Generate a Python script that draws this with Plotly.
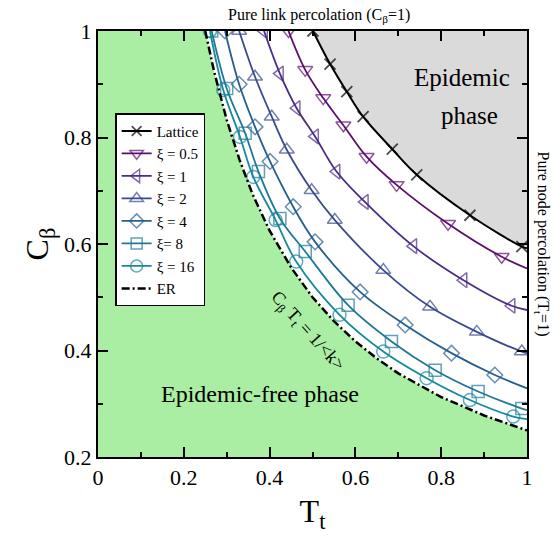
import plotly.graph_objects as go

# ---------------- data ----------------
lattice_T = [0.501, 0.541, 0.580, 0.618, 0.686, 0.743, 0.867, 0.988]
lattice_C = [1.000, 0.938, 0.886, 0.839, 0.778, 0.730, 0.654, 0.595]
lattice_end = 0.592

xi05_T = [0.444, 0.483, 0.525, 0.572, 0.626, 0.696, 0.816, 0.941]
xi05_C = [1.000, 0.927, 0.874, 0.823, 0.764, 0.711, 0.638, 0.576]
xi05_end = 0.554

xi1_T = [0.387, 0.424, 0.463, 0.506, 0.556, 0.622, 0.735, 0.852, 0.964]
xi1_C = [1.000, 0.920, 0.855, 0.802, 0.736, 0.679, 0.596, 0.532, 0.484]
xi1_end = 0.476

xi2_T = [0.329, 0.366, 0.405, 0.440, 0.498, 0.552, 0.665, 0.774, 0.883, 0.988]
xi2_C = [1.000, 0.914, 0.839, 0.777, 0.701, 0.645, 0.551, 0.482, 0.435, 0.398]
xi2_end = 0.395

xi4_T = [0.296, 0.329, 0.366, 0.401, 0.455, 0.506, 0.611, 0.716, 0.824, 0.925]
xi4_C = [1.000, 0.900, 0.820, 0.755, 0.670, 0.604, 0.510, 0.448, 0.395, 0.354]
xi4_end = 0.329

xi8_T = [0.265, 0.300, 0.343, 0.374, 0.424, 0.483, 0.583, 0.684, 0.786, 0.886, 0.988]
xi8_C = [1.000, 0.892, 0.808, 0.736, 0.648, 0.586, 0.485, 0.417, 0.363, 0.323, 0.291]
xi8_end = 0.288

xi16_T = [0.261, 0.292, 0.331, 0.362, 0.414, 0.462, 0.563, 0.665, 0.766, 0.867, 0.968]
xi16_C = [1.000, 0.889, 0.801, 0.726, 0.645, 0.567, 0.467, 0.398, 0.348, 0.307, 0.276]
xi16_end = 0.271

er_T = [0.25, 0.27, 0.30, 0.33, 0.36, 0.40, 0.45, 0.50, 0.55, 0.60, 0.65, 0.70, 0.80, 0.90, 1.00]
er_C = [1.000, 0.926, 0.833, 0.758, 0.694, 0.625, 0.556, 0.500, 0.455, 0.417, 0.385, 0.357, 0.3125, 0.278, 0.250]

series_names = ["ξ = 0.5", "ξ = 1", "ξ = 2", "ξ = 4", "ξ= 8", "ξ = 16"]
series_T = [xi05_T, xi1_T, xi2_T, xi4_T, xi8_T, xi16_T]
series_C = [xi05_C, xi1_C, xi2_C, xi4_C, xi8_C, xi16_C]
series_end = [xi05_end, xi1_end, xi2_end, xi4_end, xi8_end, xi16_end]

colors = ["#5b0f6e", "#4b2c86", "#3b4a8e", "#255f8f", "#1f7898", "#17899c"]
symbols = ["triangle-down-open", "triangle-left-open", "triangle-up-open",
           "diamond-open", "square-open", "circle-open"]
msizes = [13, 13, 13, 12, 12, 13]

FONT = "Times New Roman, Liberation Serif, serif"

fig = go.Figure()

# green epidemic-free region (left/below ER line)
fig.add_trace(go.Scatter(
    x=[0] + er_T + [1.0], y=[1.0] + er_C + [0.0],
    mode="lines", line=dict(width=0), fill="tozeroy",
    fillcolor="#a9eea2", showlegend=False, hoverinfo="skip"))

# gray epidemic region (above lattice line)
fig.add_trace(go.Scatter(
    x=[lattice_T[0], 1.0], y=[1.0, 1.0], mode="lines",
    line=dict(width=0), showlegend=False, hoverinfo="skip"))
fig.add_trace(go.Scatter(
    x=lattice_T + [1.0], y=lattice_C + [lattice_end], mode="lines",
    line=dict(width=0, shape="spline"), fill="tonexty",
    fillcolor="#dadada", showlegend=False, hoverinfo="skip"))

# lattice
fig.add_trace(go.Scatter(
    x=lattice_T + [1.0], y=lattice_C + [lattice_end],
    mode="lines+markers", name="Lattice",
    line=dict(color="black", width=2, shape="spline"),
    marker=dict(symbol="x-thin-open", size=[11] * len(lattice_T) + [0],
                line=dict(color="black", width=1.8), color="black")))

for name, T, C, end, col, sym, ms in zip(series_names, series_T, series_C,
                                         series_end, colors, symbols, msizes):
    fig.add_trace(go.Scatter(
        x=T + [1.0], y=C + [end], mode="lines+markers", name=name,
        line=dict(color=col, width=1.8, shape="spline"),
        marker=dict(symbol=sym, size=[ms] * len(T) + [0], color=col,
                    line=dict(color=col, width=1.5))))

# ER
fig.add_trace(go.Scatter(
    x=er_T, y=er_C, mode="lines", name="ER",
    line=dict(color="black", width=2.5, dash="8px,3px,2px,3px")))

axis_common = dict(
    showline=True, linewidth=2, linecolor="black", mirror="ticks",
    ticks="inside", ticklen=10, tickwidth=1.5, tickcolor="black",
    showgrid=False, zeroline=False,
    tickfont=dict(family=FONT, size=22, color="black"),
    minor=dict(ticks="inside", ticklen=5, tickwidth=1.5, tickcolor="black",
               dtick=0.1, showgrid=False),
)

fig.update_xaxes(range=[0, 1], dtick=0.2, tick0=0,
                 title=dict(text="T<sub>t</sub>", font=dict(family=FONT, size=32, color="black"),
                            standoff=10),
                 **axis_common)
fig.update_yaxes(range=[0.2, 1], dtick=0.2, tick0=0.2,
                 title=dict(text="C<sub>β</sub>", font=dict(family=FONT, size=32, color="black"),
                            standoff=6),
                 **axis_common)

annotations = [
    dict(text="Epidemic", x=0.848, y=0.912, xref="x", yref="y",
         showarrow=False, font=dict(family=FONT, size=25, color="black")),
    dict(text="phase", x=0.937, y=0.842, xref="x", yref="y", xanchor="right",
         showarrow=False, font=dict(family=FONT, size=25, color="black")),
    dict(text="Epidemic-free phase", x=0.378, y=0.318, xref="x", yref="y",
         showarrow=False, font=dict(family=FONT, size=24, color="black")),
    dict(text="Pure link percolation (C<sub>β</sub>=1)", x=0.515, y=1.0, xref="x",
         yref="paper", yanchor="bottom", yshift=4, showarrow=False,
         font=dict(family=FONT, size=16, color="black")),
    dict(text="Pure node percolation (T<sub>t</sub>=1)", x=1.0, y=0.6, xref="paper",
         yref="y", xanchor="left", xshift=4, textangle=90, showarrow=False,
         font=dict(family=FONT, size=16, color="black")),
    dict(text="C<sub>β</sub> T<sub>t</sub> = 1/&lt;k&gt;", x=0.487, y=0.435, xref="x", yref="y",
         textangle=48, showarrow=False, font=dict(family=FONT, size=18, color="black")),
]

fig.update_layout(
    width=554, height=548,
    margin=dict(l=98, r=27, t=31, b=91),
    plot_bgcolor="white", paper_bgcolor="white",
    annotations=annotations,
    legend=dict(x=0.04, y=0.807, xanchor="left", yanchor="top",
                traceorder="normal",
                bgcolor="white", bordercolor="black", borderwidth=1.5,
                font=dict(family=FONT, size=15, color="black"),
                tracegroupgap=0, itemwidth=30),
)

fig.write_html("out.html")
